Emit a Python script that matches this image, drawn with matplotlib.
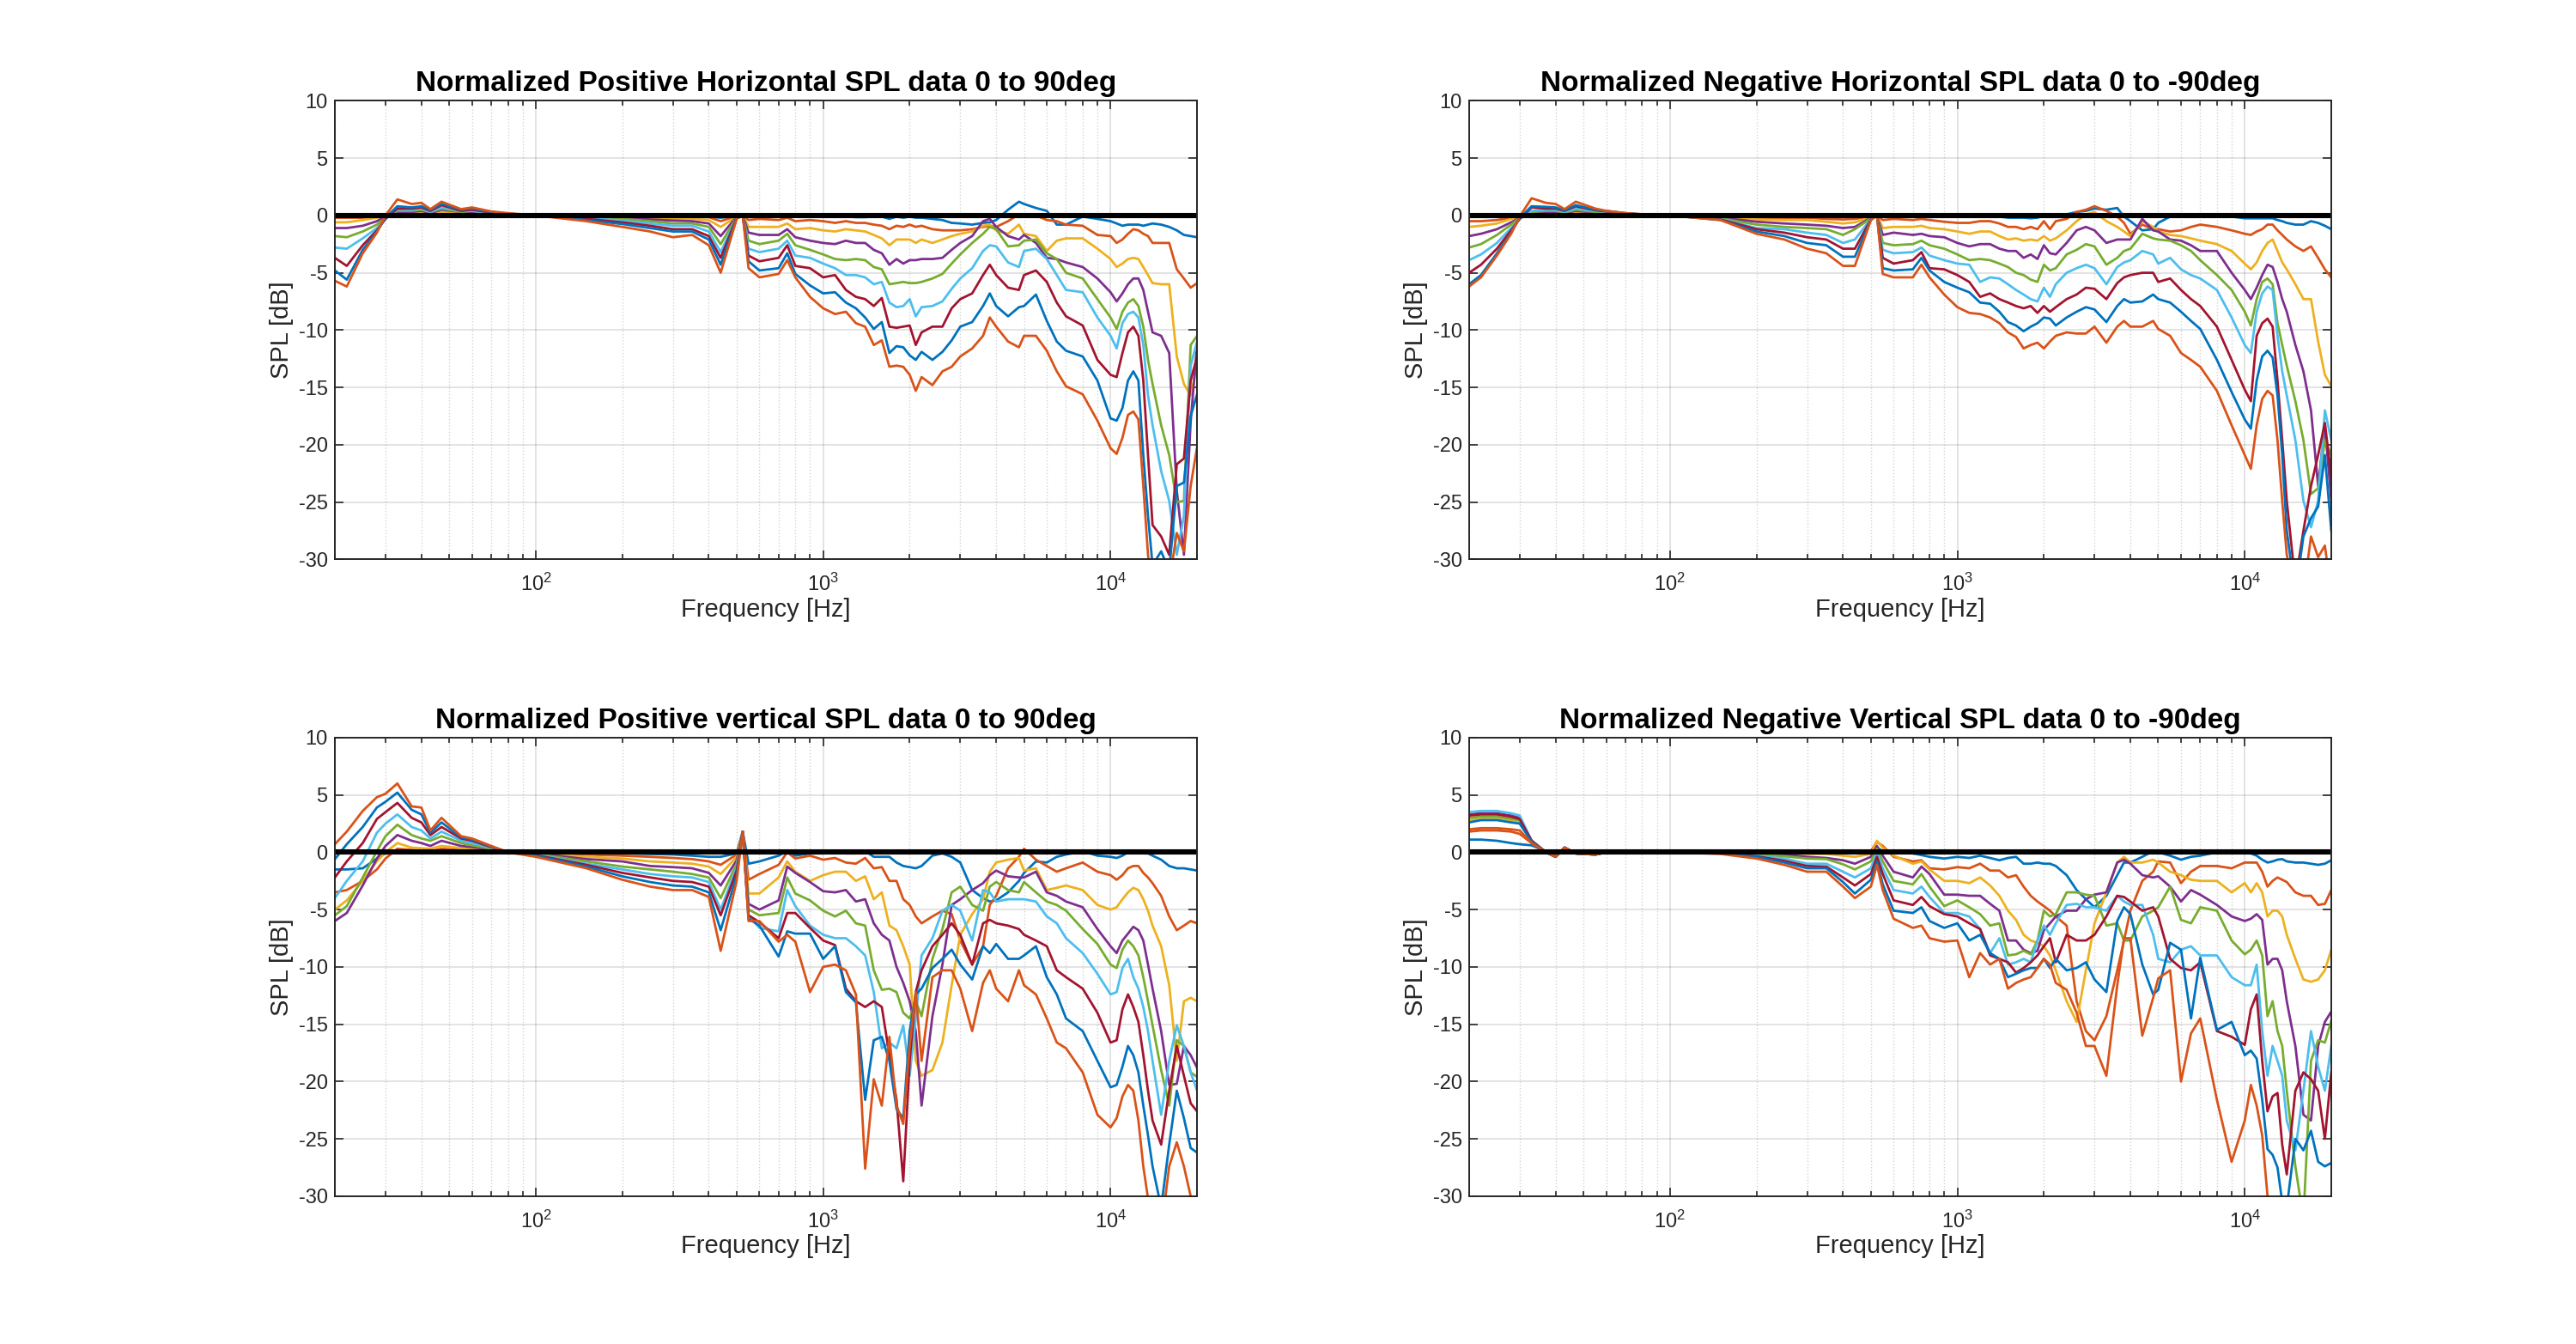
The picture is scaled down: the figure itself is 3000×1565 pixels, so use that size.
import matplotlib
matplotlib.use("Agg")
import matplotlib.pyplot as plt
import numpy as np

plt.rcParams["font.family"] = ["Liberation Sans", "DejaVu Sans"]
plt.rcParams["axes.unicode_minus"] = False
plt.rcParams["mathtext.fontset"] = "custom"
plt.rcParams["mathtext.rm"] = "Liberation Sans"

# frequency points (Hz) shared by all curves
FREQ = [20, 22, 25, 28, 30, 33, 37, 40, 43, 47, 55, 60, 70, 80, 100,
        150, 200, 250, 300, 350, 400, 440, 500, 525, 550, 600, 700, 750, 800, 900,
        1000, 1100, 1200, 1300, 1400, 1500, 1600, 1700, 1800, 1900,
        2000, 2100, 2200, 2400, 2600, 2800, 3000, 3300, 3600, 3800,
        4000, 4400, 4800, 5000, 5500, 6000, 6500, 7000, 8000, 9000,
        10000, 10500, 11000, 11500, 12000, 12500, 13000, 13500, 14000, 15000,
        16000, 17000, 18000, 19000, 20000]

ANGLES = [10, 20, 30, 40, 50, 60, 70, 80, 90]

# 0 deg reference after normalisation
REF_0DEG = np.zeros(len(FREQ))

# normalized SPL [dB], one row per angle 10..90 deg
h_pos = [
    [-0.1, -0.1, -0.1, 0.0, 0.0, 0.1, 0.1, 0.1, 0.1, 0.1, 0.1, 0.1, 0.05, 0.0, 0.0,
     0.0, 0.0, 0.0, -0.05, -0.05, -0.1, -0.2, -0.05, 0.0, -0.1, -0.05, -0.05, 0.0, -0.1, -0.1,
     -0.1, -0.1, -0.1, -0.15, -0.15, -0.1, -0.1, -0.3, -0.1, -0.2, -0.1, -0.2, -0.2, -0.3, -0.4, -0.65, -0.7, -0.8, -0.65, -0.6,
     -0.4, 0.5, 1.2, 1.0, 0.65, 0.4, -0.8, -0.8, -0.1, -0.3, -0.5, -0.7, -0.9, -0.8, -0.8, -0.8, -0.9, -0.8, -0.7, -0.8,
     -1.0, -1.3, -1.7, -1.8, -1.9],
    [-0.2, -0.2, -0.2, -0.1, 0.0, 0.1, 0.2, 0.2, 0.1, 0.2, 0.1, 0.1, 0.1, 0.05, 0.0,
     -0.05, -0.05, -0.1, -0.15, -0.15, -0.15, -0.5, -0.05, 0.0, -0.4, -0.3, -0.4, -0.2, -0.5, -0.4,
     -0.5, -0.65, -0.5, -0.65, -0.65, -0.8, -0.9, -1.2, -0.9, -1.0, -0.8, -1.0, -0.9, -1.2, -1.3, -1.3, -1.3, -1.2, -1.0, -0.9,
     -1.0, -0.5, 0.1, -0.1, 0.0, -0.4, -0.5, -0.8, -0.9, -1.7, -1.8, -2.4, -2.1, -1.6, -1.2, -1.3, -1.6, -1.8, -2.4, -2.4,
     -2.4, -4.7, -5.5, -6.3, -5.9],
    [-0.6, -0.6, -0.4, -0.2, 0.0, 0.2, 0.2, 0.3, 0.2, 0.3, 0.2, 0.2, 0.1, 0.05, 0.0,
     -0.05, -0.1, -0.2, -0.3, -0.3, -0.4, -1.0, -0.1, 0.0, -1.0, -1.0, -1.0, -0.7, -1.2, -1.1,
     -1.3, -1.4, -1.2, -1.3, -1.4, -1.7, -2.0, -2.6, -2.1, -2.1, -2.1, -2.4, -2.1, -2.4, -2.1, -1.8, -1.6, -1.4, -0.9, -0.8,
     -1.3, -1.6, -0.8, -1.6, -1.8, -3.1, -2.2, -2.0, -2.0, -2.9, -3.8, -4.5, -4.2, -3.8, -3.7, -3.8, -4.5, -5.2, -5.9, -6.0,
     -6.0, -12.3, -14.7, -15.7, -13.1],
    [-1.1, -1.1, -0.9, -0.5, -0.1, 0.3, 0.3, 0.4, 0.2, 0.5, 0.3, 0.3, 0.15, 0.1, 0.0,
     -0.1, -0.2, -0.35, -0.45, -0.5, -0.7, -1.8, -0.1, 0.0, -1.5, -1.7, -1.7, -1.2, -1.9, -2.2,
     -2.4, -2.5, -2.2, -2.4, -2.4, -3.0, -3.3, -4.3, -3.8, -4.2, -3.9, -3.9, -3.8, -3.8, -3.7, -3.0, -2.4, -1.8, -0.5, -0.3,
     -1.0, -1.8, -2.1, -1.7, -2.4, -3.7, -3.8, -4.1, -4.5, -5.5, -6.7, -7.5, -6.8, -6.0, -5.5, -5.5, -6.5, -8.4, -10.2, -10.5,
     -12.0, -24.0, -29.6, -18.0, -11.3],
    [-1.8, -1.9, -1.4, -0.8, -0.2, 0.4, 0.4, 0.5, 0.3, 0.6, 0.3, 0.4, 0.2, 0.1, 0.0,
     -0.15, -0.3, -0.5, -0.7, -0.7, -1.0, -2.5, -0.15, 0.0, -2.2, -2.5, -2.2, -1.6, -2.6, -3.0,
     -3.4, -3.8, -3.9, -3.8, -3.9, -4.5, -4.7, -6.0, -5.9, -5.8, -5.9, -5.9, -5.8, -5.5, -5.1, -4.2, -3.4, -2.4, -1.6, -1.0,
     -1.2, -2.7, -2.6, -2.2, -2.1, -3.3, -3.8, -5.0, -5.5, -7.3, -8.9, -9.9, -8.4, -7.6, -7.3, -7.9, -9.7, -12.6, -14.7, -18.3,
     -20.9, -25.0, -24.9, -11.3, -10.5],
    [-2.8, -2.9, -2.0, -1.1, -0.3, 0.5, 0.5, 0.6, 0.3, 0.7, 0.4, 0.4, 0.2, 0.1, 0.0,
     -0.2, -0.45, -0.7, -0.9, -0.9, -1.4, -3.2, -0.2, 0.0, -2.9, -3.2, -2.9, -2.2, -3.5, -3.7,
     -4.2, -4.6, -5.2, -5.2, -5.4, -6.0, -5.8, -7.6, -8.0, -7.9, -7.3, -8.8, -8.0, -7.9, -7.5, -6.4, -5.5, -4.6, -3.1, -2.6,
     -2.7, -4.1, -4.5, -3.1, -2.9, -3.8, -5.2, -6.5, -6.7, -8.9, -10.5, -11.6, -9.4, -8.6, -8.4, -8.9, -11.3, -15.7, -18.3, -22.3,
     -24.9, -29.6, -26.2, -13.1, -11.0],
    [-3.7, -4.4, -2.6, -1.3, -0.3, 0.6, 0.6, 0.7, 0.4, 0.9, 0.4, 0.5, 0.25, 0.15, 0.0,
     -0.3, -0.6, -0.9, -1.2, -1.2, -1.8, -3.7, -0.2, 0.0, -3.5, -4.0, -3.7, -2.6, -4.4, -4.6,
     -5.4, -5.2, -6.5, -7.1, -7.3, -7.9, -7.2, -9.7, -9.8, -9.7, -9.6, -11.3, -10.2, -9.7, -9.7, -8.1, -7.3, -6.8, -5.2, -4.3,
     -5.2, -6.3, -6.5, -5.2, -4.8, -5.8, -7.6, -8.8, -9.6, -12.6, -13.9, -14.1, -12.0, -10.2, -9.7, -10.5, -14.4, -20.9, -27.0, -28.0,
     -29.6, -21.7, -21.2, -14.4, -12.3],
    [-4.8, -5.6, -3.0, -1.4, -0.2, 0.8, 0.7, 0.8, 0.5, 1.0, 0.5, 0.6, 0.3, 0.15, 0.0,
     -0.4, -0.75, -1.1, -1.4, -1.4, -2.1, -4.3, -0.25, 0.0, -4.0, -4.8, -4.6, -3.3, -5.1, -6.1,
     -6.8, -6.7, -7.6, -8.1, -8.9, -9.9, -9.3, -12.0, -11.4, -11.5, -12.2, -12.6, -11.9, -12.6, -11.9, -10.9, -9.7, -9.3, -7.9, -6.8,
     -7.9, -8.8, -8.0, -7.9, -6.9, -9.2, -11.0, -11.8, -12.3, -14.4, -17.7, -17.9, -16.8, -14.4, -13.6, -14.4, -20.9, -26.2, -30.5, -29.3,
     -31.0, -23.6, -23.3, -17.5, -15.6],
    [-5.7, -6.2, -3.3, -1.5, 0.0, 1.4, 1.0, 1.1, 0.55, 1.2, 0.55, 0.7, 0.35, 0.2, 0.0,
     -0.5, -1.0, -1.4, -1.9, -1.7, -2.6, -5.0, -0.3, 0.0, -4.6, -5.4, -5.1, -3.9, -5.4, -7.1,
     -8.1, -8.6, -8.4, -9.4, -9.7, -11.3, -10.9, -13.2, -13.1, -13.2, -13.9, -15.3, -14.1, -14.8, -13.6, -13.2, -12.3, -11.6, -10.5, -8.9,
     -9.7, -11.0, -11.5, -10.5, -10.5, -11.8, -13.6, -14.9, -15.6, -17.9, -20.3, -20.8, -19.4, -17.4, -17.1, -17.8, -23.6, -29.6, -33.0, -33.0,
     -32.0, -27.7, -29.3, -23.6, -20.2],
]

h_neg = [
    [-0.1, -0.1, -0.1, 0.0, 0.0, 0.0, 0.1, 0.1, 0.05, 0.1, 0.1, 0.05, 0.0, 0.0, 0.0,
     -0.05, -0.1, -0.1, -0.1, -0.1, -0.1, -0.2, -0.05, 0.0, -0.1, -0.1, -0.1, -0.05, -0.15, -0.1,
     -0.1, -0.1, -0.1, -0.1, -0.1, -0.2, -0.2, -0.2, -0.25, -0.2, 0.0, -0.1, 0.0, 0.1, 0.3, 0.4, 0.6, 0.5, 0.65, -0.1,
     -0.5, -1.3, -1.2, -0.65, -0.1, 0.0, -0.05, -0.1, 0.0, -0.1, -0.25, -0.25, -0.25, -0.25, -0.25, -0.25, -0.4, -0.5, -0.65, -0.8,
     -0.8, -0.5, -0.65, -0.9, -1.2],
    [-0.5, -0.5, -0.4, -0.2, -0.1, 0.1, 0.1, 0.2, 0.1, 0.2, 0.1, 0.1, 0.05, 0.0, 0.0,
     -0.1, -0.2, -0.3, -0.2, -0.3, -0.35, -0.3, -0.1, 0.0, -0.4, -0.3, -0.4, -0.3, -0.4, -0.55,
     -0.65, -0.65, -0.5, -0.5, -0.7, -1.0, -1.0, -1.2, -1.0, -1.2, -0.5, -1.2, -0.5, -0.3, 0.3, 0.5, 0.8, 0.4, -0.1, -0.65,
     -1.6, -0.8, -1.2, -1.2, -1.4, -1.3, -1.0, -0.8, -1.0, -1.3, -1.6, -1.7, -1.4, -1.2, -0.8, -0.8, -1.3, -1.7, -2.1, -2.7,
     -3.1, -2.7, -3.7, -4.7, -5.4],
    [-1.0, -0.9, -0.7, -0.3, -0.1, 0.2, 0.2, 0.2, 0.15, 0.3, 0.2, 0.15, 0.05, 0.0, 0.0,
     -0.15, -0.35, -0.4, -0.4, -0.55, -0.7, -0.6, -0.15, 0.0, -1.1, -1.0, -1.0, -0.9, -1.1, -1.2,
     -1.4, -1.6, -1.4, -1.4, -1.8, -2.1, -2.0, -2.2, -2.1, -2.2, -1.8, -2.2, -2.0, -1.3, -0.5, 0.1, 0.3, -0.5, -1.0, -1.4,
     -1.8, -0.5, -1.0, -1.4, -1.7, -1.8, -2.0, -2.2, -2.5, -3.1, -4.2, -4.7, -4.1, -3.1, -2.4, -2.1, -3.1, -4.1, -4.7, -6.0,
     -7.3, -7.3, -11.0, -13.9, -14.9],
    [-1.8, -1.6, -1.2, -0.6, -0.2, 0.3, 0.3, 0.3, 0.2, 0.4, 0.25, 0.2, 0.1, 0.05, 0.0,
     -0.2, -0.55, -0.7, -0.8, -0.9, -1.1, -1.0, -0.2, 0.0, -1.7, -1.5, -1.7, -1.6, -1.8, -1.9,
     -2.4, -2.7, -2.5, -2.5, -2.9, -3.1, -3.1, -3.7, -3.4, -3.8, -2.6, -3.3, -3.4, -2.4, -1.3, -1.0, -1.3, -2.4, -2.1, -2.1,
     -2.1, -0.3, -1.3, -1.4, -2.1, -2.2, -2.6, -3.1, -3.1, -5.0, -6.5, -7.3, -6.3, -5.2, -4.3, -4.5, -5.8, -7.3, -8.4, -11.3,
     -13.6, -17.0, -23.6, -18.3, -24.9],
    [-2.8, -2.5, -1.7, -0.8, -0.2, 0.3, 0.4, 0.4, 0.25, 0.5, 0.3, 0.25, 0.1, 0.05, 0.0,
     -0.25, -0.8, -1.0, -1.1, -1.2, -1.7, -1.2, -0.25, 0.0, -2.4, -2.6, -2.5, -2.2, -2.6, -2.9,
     -3.4, -3.9, -3.8, -3.9, -4.2, -4.5, -5.0, -5.2, -5.6, -5.8, -4.3, -4.8, -4.6, -3.4, -3.0, -2.5, -2.7, -4.3, -3.7, -3.1,
     -2.9, -1.6, -2.0, -2.1, -2.2, -2.6, -3.1, -3.9, -5.2, -6.5, -8.4, -9.6, -7.3, -5.8, -5.5, -6.0, -9.4, -11.3, -13.1, -16.2,
     -19.6, -24.3, -23.8, -19.6, -20.9],
    [-3.9, -3.4, -2.4, -1.1, -0.3, 0.4, 0.5, 0.5, 0.3, 0.6, 0.4, 0.3, 0.15, 0.05, 0.0,
     -0.3, -1.1, -1.2, -1.5, -1.7, -2.4, -2.1, -0.3, 0.0, -3.0, -3.3, -3.2, -2.8, -3.5, -3.9,
     -4.2, -4.3, -5.8, -5.4, -5.5, -6.0, -6.5, -6.9, -7.3, -7.5, -6.3, -7.1, -6.0, -5.0, -4.6, -4.3, -4.6, -6.0, -4.5, -4.1,
     -3.9, -3.1, -3.4, -4.2, -3.7, -4.7, -5.2, -5.5, -6.5, -8.9, -11.3, -12.0, -8.4, -6.8, -6.2, -6.5, -10.5, -13.6, -15.7, -19.6,
     -24.9, -27.2, -24.9, -17.0, -19.6],
    [-5.0, -4.3, -2.9, -1.3, -0.3, 0.7, 0.6, 0.6, 0.4, 0.8, 0.45, 0.35, 0.15, 0.1, 0.0,
     -0.35, -1.2, -1.5, -1.9, -2.1, -2.9, -2.9, -0.35, 0.0, -3.7, -4.2, -3.9, -3.2, -4.6, -4.7,
     -5.2, -5.8, -7.1, -6.8, -7.3, -7.6, -7.9, -8.1, -7.9, -8.5, -7.9, -8.4, -8.0, -7.3, -6.9, -6.3, -6.4, -7.3, -5.9, -5.4,
     -5.2, -5.0, -5.0, -5.8, -5.5, -6.5, -7.3, -7.9, -9.7, -12.6, -15.2, -16.2, -10.5, -9.4, -9.0, -9.7, -14.4, -19.6, -24.9, -32.0,
     -27.5, -23.6, -20.9, -18.1, -22.8],
    [-6.0, -5.2, -3.3, -1.5, -0.2, 0.8, 0.75, 0.7, 0.45, 0.9, 0.5, 0.4, 0.2, 0.1, 0.0,
     -0.4, -1.4, -1.8, -2.4, -2.6, -3.6, -3.6, -0.4, 0.0, -4.6, -4.8, -4.7, -3.7, -4.8, -5.8,
     -6.3, -6.7, -7.6, -7.7, -8.4, -9.3, -9.6, -10.1, -9.7, -9.4, -8.9, -9.0, -9.6, -8.9, -8.4, -8.0, -8.2, -9.3, -7.9, -7.3,
     -7.6, -7.5, -6.9, -7.3, -7.6, -8.4, -9.2, -9.9, -12.6, -15.4, -17.8, -18.6, -14.4, -12.3, -11.8, -12.4, -15.7, -20.9, -27.5, -33.0,
     -28.0, -26.4, -25.4, -20.9, -27.5],
    [-6.2, -5.4, -3.5, -1.6, -0.1, 1.5, 1.1, 1.0, 0.55, 1.2, 0.6, 0.4, 0.2, 0.1, 0.0,
     -0.4, -1.6, -2.1, -2.9, -3.3, -4.4, -4.4, -0.4, 0.0, -5.1, -5.4, -5.4, -4.3, -5.4, -6.9,
     -8.0, -8.5, -8.6, -8.9, -9.4, -10.2, -10.6, -11.6, -11.3, -11.1, -11.6, -11.0, -10.5, -10.2, -10.3, -10.3, -9.7, -11.1, -9.7, -9.2,
     -9.7, -9.7, -9.2, -9.9, -10.5, -12.0, -12.6, -13.2, -15.3, -18.3, -20.9, -22.1, -18.3, -16.0, -15.3, -15.7, -19.6, -24.9, -29.6, -33.0,
     -33.0, -28.0, -29.8, -28.8, -33.0],
]

v_pos = [
    [-1.5, -1.5, -1.4, -0.55, -0.1, 0.0, 0.05, 0.0, 0.0, 0.1, 0.1, 0.1, 0.05, 0.0, 0.0,
     -0.05, -0.1, -0.15, -0.2, -0.3, -0.4, -0.4, -0.1, 1.8, -1.0, -0.8, -0.3, 0.1, -0.3, -0.1,
     -0.1, 0.0, -0.1, -0.1, 0.1, -0.4, -0.4, -0.4, -0.9, -1.2, -1.3, -1.4, -1.2, -0.3, -0.1, -0.4, -0.9, -3.3, -4.0, -4.3,
     -4.2, -3.5, -2.5, -1.8, -0.8, -0.9, -0.4, -0.2, 0.1, -0.3, -0.4, -0.5, -0.3, 0.0, 0.1, 0.1, -0.1, -0.1, -0.3, -0.65,
     -1.2, -1.4, -1.4, -1.5, -1.6],
    [-3.5, -3.3, -2.5, -1.5, -0.55, 0.3, 0.2, 0.15, 0.1, 0.3, 0.2, 0.15, 0.1, 0.0, -0.05,
     -0.2, -0.3, -0.4, -0.5, -0.6, -0.8, -1.1, -0.2, 1.8, -2.4, -1.9, -1.1, 0.0, -0.55, -0.3,
     -0.65, -0.5, -0.9, -1.0, -0.5, -1.4, -1.3, -2.5, -2.5, -4.1, -4.6, -5.6, -6.2, -5.6, -5.1, -5.4, -7.7, -9.8, -8.2, -4.6,
     -3.8, -1.4, -0.4, 0.3, -0.65, -1.2, -1.7, -1.4, -0.9, -1.7, -2.0, -2.4, -2.0, -1.4, -1.2, -1.2, -1.8, -2.2, -2.7, -3.8,
     -5.6, -6.8, -6.4, -6.0, -6.2],
    [-5.0, -4.2, -2.5, -0.8, 0.0, 0.8, 0.4, 0.35, 0.3, 0.55, 0.35, 0.3, 0.15, 0.0, -0.1,
     -0.4, -0.55, -0.8, -0.9, -1.0, -1.25, -1.9, -0.4, 1.8, -3.6, -3.6, -2.2, -0.8, -1.7, -2.5,
     -2.0, -1.7, -1.7, -2.5, -2.1, -4.1, -3.5, -6.4, -6.8, -8.2, -9.8, -18.2, -19.5, -19.0, -16.6, -11.6, -7.2, -5.4, -4.1, -1.7,
     -0.9, -0.65, -0.5, -1.6, -1.4, -3.3, -3.1, -2.9, -3.3, -4.6, -5.0, -4.8, -4.1, -3.5, -3.1, -3.3, -4.1, -5.1, -6.4, -8.2,
     -11.6, -18.2, -13.0, -12.7, -13.0],
    [-6.0, -5.3, -2.9, -0.55, 0.55, 1.5, 1.0, 0.8, 0.55, 1.0, 0.55, 0.45, 0.25, 0.0, -0.1,
     -0.6, -0.8, -1.2, -1.3, -1.4, -1.8, -2.9, -0.7, 1.8, -4.5, -5.0, -4.2, -1.25, -1.8, -2.6,
     -3.4, -3.5, -3.3, -4.3, -4.1, -6.2, -7.2, -7.7, -10.0, -11.4, -13.0, -15.6, -22.1, -14.3, -9.8, -4.6, -4.1, -3.3, -2.7, -2.0,
     -1.6, -2.1, -2.2, -2.2, -1.7, -3.5, -3.8, -4.3, -4.8, -6.7, -8.2, -8.8, -7.7, -7.1, -6.5, -6.8, -7.7, -9.8, -11.9, -15.6,
     -20.3, -20.2, -16.9, -17.7, -18.8],
    [-5.5, -4.7, -2.2, 0.1, 1.4, 2.4, 1.5, 1.2, 1.0, 1.4, 0.8, 0.6, 0.3, 0.0, -0.15,
     -0.8, -1.25, -1.5, -1.7, -1.9, -2.2, -4.0, -1.0, 1.8, -5.0, -5.5, -5.3, -2.2, -3.6, -4.2,
     -5.1, -5.6, -5.1, -6.2, -6.4, -10.3, -12.0, -11.9, -12.2, -14.0, -14.5, -13.0, -14.3, -9.3, -6.7, -3.5, -3.0, -4.6, -5.1, -3.0,
     -2.6, -3.3, -3.5, -2.6, -3.5, -4.3, -4.6, -5.1, -6.7, -8.0, -9.8, -10.1, -8.5, -7.7, -8.2, -9.0, -10.9, -13.0, -15.1, -19.0,
     -22.1, -16.4, -16.9, -19.2, -19.6],
    [-4.0, -2.5, -0.8, 1.7, 2.5, 3.3, 2.2, 1.9, 1.2, 1.8, 1.0, 0.8, 0.4, 0.0, -0.2,
     -1.0, -1.5, -1.9, -2.1, -2.2, -2.6, -5.0, -1.3, 1.8, -5.5, -6.6, -6.9, -3.3, -4.7, -6.4,
     -7.2, -7.5, -7.5, -8.2, -9.0, -12.2, -17.1, -16.6, -17.1, -15.1, -19.5, -14.5, -9.0, -7.5, -5.1, -4.6, -5.1, -7.7, -3.3, -3.5,
     -4.3, -4.1, -4.1, -4.1, -4.3, -5.6, -6.2, -7.5, -8.8, -10.6, -12.4, -12.2, -10.1, -9.3, -10.9, -11.9, -13.5, -15.6, -18.2, -22.9,
     -18.2, -15.1, -16.9, -19.2, -20.8],
    [-2.2, -0.8, 0.8, 2.9, 3.5, 4.3, 3.0, 2.6, 1.5, 2.2, 1.2, 1.0, 0.45, 0.0, -0.25,
     -1.1, -1.8, -2.2, -2.5, -2.6, -3.0, -5.5, -1.6, 1.8, -5.5, -6.1, -7.5, -5.3, -5.3, -6.6,
     -7.7, -8.1, -11.9, -13.0, -13.5, -13.0, -13.5, -17.7, -21.6, -28.7, -18.2, -12.2, -10.3, -8.2, -7.2, -6.2, -7.2, -9.8, -6.2, -5.9,
     -6.2, -6.4, -6.7, -7.2, -7.7, -8.2, -10.3, -10.9, -11.9, -14.0, -16.6, -16.4, -13.7, -12.4, -13.5, -14.8, -17.7, -20.8, -23.4, -25.5,
     -20.8, -16.9, -19.5, -21.9, -22.6],
    [-0.6, 0.7, 2.2, 3.9, 4.4, 5.2, 3.7, 3.3, 1.7, 2.6, 1.3, 1.1, 0.5, 0.0, -0.3,
     -1.25, -2.1, -2.6, -2.9, -3.0, -3.5, -6.8, -2.0, 1.8, -5.8, -6.4, -9.1, -6.9, -7.1, -7.1,
     -9.3, -8.2, -12.2, -13.1, -21.6, -16.4, -16.1, -18.2, -22.4, -23.2, -15.6, -12.4, -11.9, -10.1, -9.3, -8.5, -9.8, -11.1, -8.2, -8.8,
     -8.0, -9.3, -9.3, -9.0, -8.2, -10.9, -12.4, -14.5, -15.6, -18.2, -20.5, -20.3, -18.7, -16.9, -17.7, -19.2, -22.1, -24.7, -27.4, -31.0,
     -25.5, -20.8, -23.2, -25.8, -26.2],
    [0.7, 1.8, 3.6, 4.8, 5.1, 6.0, 4.0, 3.9, 1.9, 3.0, 1.4, 1.2, 0.55, 0.0, -0.4,
     -1.4, -2.4, -3.0, -3.3, -3.3, -3.9, -8.6, -2.5, 1.8, -6.0, -6.0, -7.8, -7.2, -7.8, -12.2,
     -10.0, -9.8, -10.3, -12.4, -27.6, -19.8, -22.1, -16.1, -22.1, -23.7, -16.9, -12.2, -18.2, -10.9, -10.3, -10.3, -11.9, -15.6, -11.4, -10.3,
     -11.9, -13.0, -10.3, -11.6, -12.4, -14.5, -16.6, -17.1, -19.2, -22.9, -24.0, -23.2, -21.3, -20.3, -20.8, -23.4, -27.4, -30.2, -32.0, -33.0,
     -27.4, -25.3, -27.4, -30.0, -31.0],
]

v_neg = [
    [1.1, 1.1, 1.0, 0.8, 0.7, 0.6, 0.1, -0.3, 0.3, 0.0, -0.2, 0.0, 0.0, 0.0, 0.0,
     0.0, 0.0, 0.0, 0.0, 0.0, 0.1, 0.1, 0.05, 0.4, 0.1, 0.0, -0.1, -0.25, -0.4, -0.55,
     -0.4, -0.5, -0.3, -0.5, -0.7, -0.5, -0.4, -1.0, -1.0, -0.9, -1.0, -1.0, -1.2, -2.0, -3.3, -4.1, -4.8, -3.8, -2.0, -0.9,
     -0.9, -0.4, 0.1, 0.0, -0.3, -0.65, -0.4, -0.3, 0.0, 0.0, 0.1, -0.1, -0.3, -0.65, -0.9, -0.8, -0.65, -0.6, -0.8, -0.9,
     -0.9, -1.0, -1.1, -1.0, -0.7],
    [1.8, 1.9, 1.9, 1.8, 1.6, 0.8, 0.0, -0.4, 0.4, -0.1, -0.2, 0.0, 0.0, 0.0, 0.0,
     0.0, 0.0, 0.05, 0.1, 0.1, 0.1, 0.0, 0.1, 0.9, 0.55, -0.4, -0.8, -0.7, -1.4, -1.5,
     -1.3, -1.4, -1.0, -1.6, -1.6, -2.2, -2.0, -3.0, -3.8, -4.3, -4.7, -5.1, -5.6, -6.4, -13.0, -15.6, -16.4, -14.3, -10.3, -7.7,
     -5.1, -2.5, -1.7, -0.8, -0.9, -2.7, -1.7, -1.2, -1.2, -1.4, -0.9, -0.9, -0.9, -1.7, -3.0, -2.5, -2.2, -2.4, -2.6, -3.5,
     -3.8, -3.8, -4.6, -4.5, -3.3],
    [2.8, 2.9, 2.9, 2.7, 2.6, 1.0, 0.0, -0.4, 0.4, -0.1, -0.2, 0.0, 0.0, 0.0, 0.0,
     0.0, -0.05, -0.1, -0.15, -0.15, -0.3, -0.4, -0.15, 1.0, 0.4, -0.3, -1.0, -0.8, -1.5, -2.5,
     -2.5, -2.7, -2.2, -2.9, -3.8, -5.1, -5.9, -7.2, -7.7, -7.9, -8.2, -9.0, -10.3, -13.0, -14.8, -10.3, -6.2, -3.5, -0.9, -0.4,
     -0.9, -0.9, -0.65, -0.9, -1.7, -2.0, -2.4, -2.5, -2.5, -3.5, -2.7, -3.5, -2.7, -3.5, -5.6, -5.1, -5.1, -5.6, -7.2, -9.3,
     -11.1, -11.3, -11.1, -10.3, -8.5],
    [3.3, 3.4, 3.4, 3.2, 3.0, 1.0, 0.0, -0.4, 0.4, -0.1, -0.2, 0.0, 0.0, 0.0, 0.0,
     0.0, -0.1, -0.2, -0.4, -0.5, -0.7, -1.0, -0.4, 0.55, -0.3, -1.7, -2.2, -1.25, -1.9, -3.7,
     -3.7, -3.8, -3.8, -4.5, -5.1, -7.7, -7.7, -8.5, -8.8, -8.6, -6.8, -6.2, -5.6, -5.1, -5.1, -4.1, -3.7, -3.5, -0.9, -0.65,
     -1.0, -2.0, -2.2, -2.1, -3.0, -4.3, -3.3, -3.7, -4.6, -5.6, -6.0, -5.8, -5.4, -5.9, -9.8, -9.3, -9.3, -10.3, -13.0, -16.9,
     -22.9, -23.4, -16.9, -14.8, -13.9],
    [3.0, 3.1, 3.1, 2.9, 2.8, 1.0, 0.0, -0.4, 0.4, -0.1, -0.2, 0.0, 0.0, 0.0, 0.0,
     0.0, -0.2, -0.35, -0.55, -0.6, -1.05, -1.5, -0.8, 0.3, -0.8, -2.5, -2.8, -1.9, -3.0, -4.7,
     -4.2, -4.8, -5.4, -6.4, -6.2, -9.0, -8.9, -8.6, -8.9, -7.7, -5.1, -5.6, -5.4, -3.5, -3.5, -3.7, -3.8, -6.4, -6.2, -7.7,
     -7.7, -5.6, -5.1, -4.8, -3.0, -5.9, -6.2, -4.8, -5.1, -7.7, -8.9, -8.5, -7.7, -9.0, -14.3, -13.0, -15.6, -16.9, -20.8, -27.4,
     -32.0, -18.2, -16.4, -16.6, -14.7],
    [3.5, 3.6, 3.6, 3.4, 3.2, 1.0, 0.0, -0.4, 0.4, -0.1, -0.2, 0.0, 0.0, 0.0, 0.0,
     -0.05, -0.3, -0.55, -1.0, -1.0, -1.7, -2.2, -1.4, 0.0, -1.4, -3.3, -3.6, -3.0, -3.9, -5.3,
     -5.3, -5.6, -6.7, -8.8, -7.5, -9.8, -9.6, -9.3, -9.6, -7.7, -6.4, -7.2, -6.2, -4.6, -4.5, -4.8, -4.8, -5.1, -3.8, -4.3,
     -4.6, -4.6, -7.2, -9.3, -9.6, -8.5, -8.2, -9.0, -9.0, -10.9, -11.6, -11.6, -9.8, -15.6, -19.5, -16.9, -18.2, -19.5, -23.4, -26.0,
     -20.8, -15.6, -18.7, -20.8, -16.9],
    [3.2, 3.3, 3.3, 3.1, 2.9, 1.0, 0.0, -0.4, 0.4, -0.1, -0.2, 0.0, 0.0, 0.0, 0.0,
     -0.1, -0.35, -0.75, -1.2, -1.25, -2.2, -2.9, -1.9, -0.4, -1.9, -4.2, -4.6, -3.9, -4.7, -5.4,
     -5.6, -6.2, -6.7, -9.0, -9.3, -9.6, -10.5, -10.1, -9.6, -9.0, -8.2, -7.5, -9.6, -7.2, -7.7, -7.7, -7.2, -5.6, -3.8, -3.9,
     -4.3, -5.1, -4.8, -5.6, -9.3, -10.1, -10.3, -9.6, -15.6, -16.1, -16.8, -13.7, -12.4, -18.2, -22.6, -21.3, -21.0, -25.5, -28.1, -20.8,
     -19.2, -19.8, -20.8, -25.0, -19.2],
    [2.6, 2.8, 2.8, 2.6, 2.5, 0.9, 0.0, -0.4, 0.4, -0.1, -0.2, 0.0, 0.0, 0.0, 0.0,
     -0.1, -0.4, -0.9, -1.4, -1.4, -2.6, -3.6, -2.4, -0.8, -2.8, -5.1, -5.3, -4.8, -6.0, -6.6,
     -6.2, -7.7, -7.2, -8.8, -9.3, -10.9, -10.6, -10.3, -10.1, -10.1, -9.3, -10.1, -9.3, -10.3, -10.1, -9.6, -11.1, -12.2, -6.0, -4.8,
     -5.4, -9.8, -12.4, -12.0, -7.9, -8.5, -14.5, -9.2, -15.5, -14.8, -17.7, -17.3, -18.0, -21.6, -25.9, -26.4, -27.5, -30.5, -31.0, -25.0,
     -26.0, -24.3, -27.0, -27.4, -27.1],
    [2.0, 2.1, 2.1, 2.0, 1.9, 0.8, 0.0, -0.4, 0.4, -0.1, -0.2, 0.0, 0.0, 0.0, 0.0,
     -0.15, -0.55, -1.1, -1.7, -1.7, -3.0, -4.0, -3.0, -1.1, -3.3, -5.8, -6.6, -6.4, -7.5, -7.8,
     -7.7, -10.9, -8.8, -9.8, -9.3, -11.9, -11.4, -11.1, -10.9, -10.1, -9.3, -9.8, -11.4, -12.0, -14.0, -16.9, -16.9, -19.5, -11.6, -7.5,
     -7.5, -16.0, -12.7, -11.0, -10.3, -20.0, -15.8, -14.5, -21.6, -27.0, -23.4, -20.3, -22.1, -24.7, -30.0, -33.0, -33.0, -33.0, -33.0, -33.0,
     -33.0, -33.0, -33.0, -33.0, -33.0],
]

TITLES = [
    "Normalized Positive Horizontal SPL data 0 to 90deg",
    "Normalized Negative Horizontal SPL data 0 to -90deg",
    "Normalized Positive vertical SPL data 0 to 90deg",
    "Normalized Negative Vertical SPL data 0 to -90deg",
]

# MATLAB default colour order, cycled over the 9 angles
LINE_COLORS = ["#0072BD", "#D95319", "#EDB120", "#7E2F8E", "#77AC30",
               "#4DBEEE", "#A2142F", "#0072BD", "#D95319"]

POSITIONS = [[0.13, 0.5838, 0.3347, 0.3412], [0.5703, 0.5838, 0.3347, 0.3412],
             [0.13, 0.11, 0.3347, 0.3412], [0.5703, 0.11, 0.3347, 0.3412]]

fig = plt.figure(figsize=(15, 7.825), dpi=200)

for pos, data, title in zip(POSITIONS, [h_pos, h_neg, v_pos, v_neg], TITLES):
    ax = fig.add_axes(pos)
    for vals, col in zip(data, LINE_COLORS):
        ax.plot(FREQ, vals, color=col, linewidth=1.0)
    ax.plot(FREQ, REF_0DEG, color="k", linewidth=2.2)

    ax.set_xscale("log")
    ax.set_xlim(20, 20000)
    ax.set_ylim(-30, 10)
    ax.set_yticks(np.arange(-30, 11, 5))
    ax.set_axisbelow(True)
    ax.grid(True, which="major", color="#262626", alpha=0.15, linewidth=0.6)
    ax.grid(True, which="minor", axis="x", color="#262626", alpha=0.2,
            linestyle=":", linewidth=0.5)
    ax.tick_params(which="both", direction="in", top=True, right=True,
                   colors="#262626", width=0.6, labelsize=8.5)
    ax.tick_params(which="major", length=3.6)
    ax.tick_params(which="minor", length=2.2)
    ax.tick_params(axis="x", which="both", pad=6)
    ax.tick_params(axis="y", which="both", pad=3)
    for sp in ax.spines.values():
        sp.set_color("#262626")
        sp.set_linewidth(0.7)

    ax.set_title(title, fontsize=12, fontweight="bold", pad=4)
    ax.set_xlabel("Frequency [Hz]", fontsize=10.5, color="#262626", labelpad=1)
    ax.set_ylabel("SPL [dB]", fontsize=10.5, color="#262626", labelpad=2)

fig.savefig("out.png", dpi=200)
